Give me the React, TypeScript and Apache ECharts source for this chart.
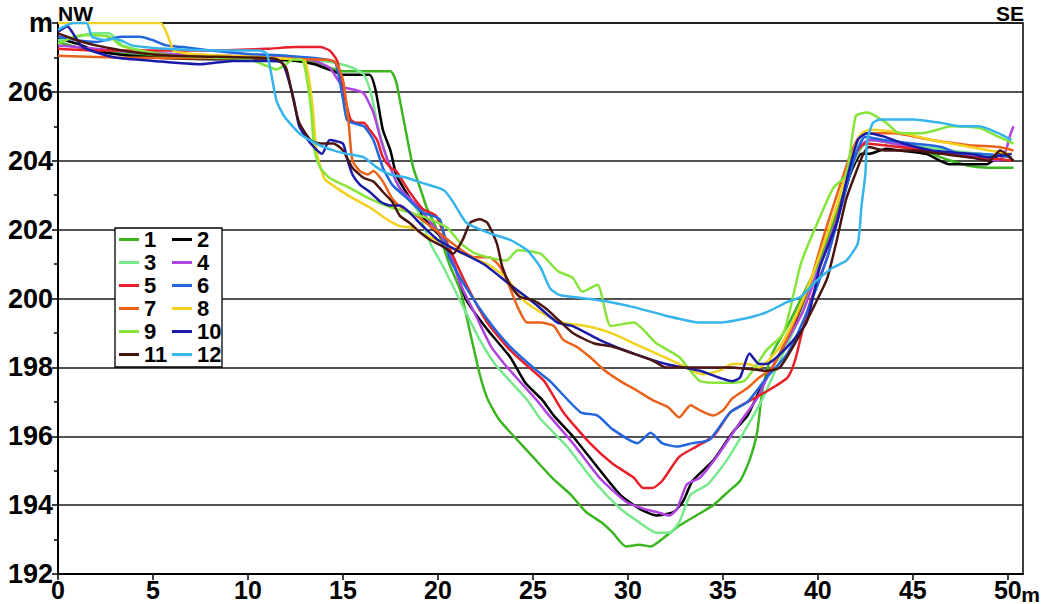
import React, { useEffect, useRef } from "react";
import * as echarts from "echarts";

// Cross-section profiles: [distance m, elevation m]
const line1 = [[0,207.45],[1,207.3],[2,207.2],[3.5,207.1],[5,207.05],[8,207.0],[11,206.95],[12.5,206.9],[13.5,206.85],[14.3,206.7],[15,206.6],[16.5,206.6],[17.5,206.6],[17.8,206.3],[18,205.75],[18.4,204.6],[18.7,203.8],[19.1,203.15],[19.4,202.65],[19.7,202.3],[20.1,201.8],[20.6,201.0],[21.2,200.2],[21.7,199.0],[22.2,197.8],[22.6,197.1],[23.2,196.5],[24,196.0],[25,195.4],[26,194.8],[27,194.3],[27.8,193.8],[28.6,193.5],[29.2,193.2],[29.9,192.8],[30.6,192.85],[31.2,192.8],[32,193.1],[32.7,193.4],[33.6,193.7],[34.5,194.0],[35.3,194.4],[35.9,194.7],[36.4,195.3],[36.8,196.1],[37.1,197.4],[37.6,198.4],[38.5,199.3],[39.3,200.2],[40,201.0],[41,202.5],[41.8,203.8],[42.3,204.4],[42.8,204.6],[43.5,204.55],[45,204.4],[46,204.2],[47,204.0],[48,203.85],[49,203.8],[50.3,203.8]];
const line2 = [[0,207.55],[1,207.4],[2,207.2],[3,207.1],[5,207.0],[8,206.95],[11,206.95],[12.5,206.9],[13.5,206.8],[14.5,206.6],[15,206.5],[16.4,206.5],[16.7,206.1],[17.1,204.9],[17.5,204.3],[17.8,203.6],[18.2,203.2],[18.9,202.6],[19.6,202.1],[20.3,201.7],[20.9,200.9],[21.5,199.95],[22.6,199.1],[23.8,198.3],[24.6,197.55],[25.5,197.05],[26.1,196.6],[27.1,196.0],[28.4,195.1],[29.6,194.3],[30.6,193.9],[31.5,193.7],[32.4,193.8],[32.9,194.1],[33.4,194.7],[34.5,195.3],[35.5,196.1],[36.3,196.6],[36.9,197.3],[38,198.4],[39,199.5],[40,200.8],[41,202.3],[41.7,203.6],[42.3,204.2],[42.7,204.2],[43.6,204.35],[44.3,204.3],[45.7,204.2],[46.9,203.9],[48.9,203.9],[49.2,204.0],[49.6,204.2],[50.1,204.1]];
const line3 = [[0,207.5],[1,207.6],[1.9,207.7],[2.7,207.7],[3.4,207.35],[5,207.15],[8,207.05],[11,207.0],[13,206.95],[14.5,206.85],[15.5,206.7],[16.1,206.5],[16.5,205.9],[16.8,205.1],[17.3,204.1],[17.8,203.4],[18.4,202.9],[18.9,202.6],[19.6,201.6],[20.3,200.9],[21.2,199.9],[22.2,198.8],[23.0,198.1],[23.8,197.6],[24.7,197.05],[25.4,196.5],[26.8,195.7],[28.2,194.7],[29.6,193.9],[30.6,193.5],[31.5,193.2],[32.2,193.2],[32.7,193.5],[33.3,194.3],[34.2,194.6],[35.2,195.3],[36.3,196.3],[37.1,197.1],[38,198.2],[39,199.4],[40,200.8],[41,202.3],[41.7,203.7],[42.3,204.4],[42.8,204.6],[44,204.5],[45.5,204.4],[47,204.3],[48.5,204.2],[50.2,204.1]];
const line4 = [[0,207.35],[1,207.3],[2,207.25],[4,207.15],[6,207.1],[9,207.05],[12,207.0],[13.5,206.9],[14.3,206.7],[15,206.15],[15.7,206.05],[16.1,205.95],[16.6,205.4],[17,204.6],[17.5,203.8],[18,203.2],[18.9,202.7],[19.9,202.0],[20.5,201.5],[21.2,200.4],[22,199.5],[22.8,198.6],[23.5,198.1],[24.3,197.6],[25.2,197.05],[25.7,196.7],[27.1,195.8],[28.5,194.8],[29.9,194.1],[30.8,193.9],[31.5,193.8],[32.2,193.7],[32.6,193.9],[33.1,194.6],[33.8,194.8],[34.8,195.5],[35.9,196.4],[36.8,197.1],[37.5,197.9],[38.3,198.7],[39.2,199.6],[40,200.8],[41,202.3],[41.7,203.7],[42.2,204.4],[42.7,204.6],[44,204.5],[45.5,204.3],[47,204.2],[48.5,204.1],[49.5,204.0],[49.9,204.3],[50.1,204.7],[50.3,205.0]];
const line5 = [[0,207.25],[2,207.2],[5,207.2],[8,207.2],[11,207.25],[12.5,207.3],[13.8,207.3],[14.3,207.2],[14.7,206.9],[15,206.05],[15.2,205.6],[15.4,205.2],[15.7,205.1],[16.1,205.1],[16.4,204.9],[16.8,204.6],[17.1,204.1],[17.5,203.8],[17.8,203.7],[18.5,203.1],[19.2,202.6],[19.9,202.4],[20.5,201.6],[21.5,200.4],[22.6,199.3],[23.8,198.5],[24.8,198.0],[25.6,197.6],[26.6,196.7],[28,195.8],[29.2,195.2],[30.3,194.8],[30.8,194.5],[31.3,194.5],[31.8,194.7],[32.7,195.4],[33.6,195.7],[34.5,196.0],[35.4,196.7],[36.3,197.0],[37.3,197.3],[38.4,197.7],[38.8,198.2],[39.2,199.1],[39.6,199.9],[40.5,201.2],[41.3,202.9],[42,204.2],[42.5,204.5],[43.5,204.45],[45,204.35],[46.5,204.25],[48,204.1],[49.5,204.05],[50.2,204.0]];
const line6 = [[0,207.6],[1,207.5],[2,207.45],[3.3,207.6],[4.3,207.6],[5,207.5],[5.7,207.35],[6.6,207.3],[8,207.2],[10,207.1],[12,207.05],[14,206.95],[14.6,206.85],[15,205.8],[15.2,205.2],[15.5,205.1],[16.1,205.0],[16.6,204.6],[17.1,203.8],[17.6,203.3],[18.4,202.9],[19.2,202.5],[20.1,202.3],[20.6,201.2],[21.5,200.3],[22.6,199.4],[23.8,198.6],[25,198.0],[25.9,197.6],[27.5,196.7],[28.4,196.6],[29.2,196.2],[30.5,195.8],[31.2,196.1],[31.8,195.8],[32.6,195.7],[33.4,195.8],[34.3,195.9],[35.4,196.7],[36.3,197.0],[37.3,197.7],[38.4,198.4],[39.5,199.7],[40.5,201.2],[41.3,202.8],[42,204.2],[42.5,204.7],[43.5,204.6],[45,204.5],[46.5,204.4],[47.5,204.2],[48.5,204.2],[49.5,204.15],[50.2,204.1]];
const line7 = [[0,207.05],[3,207.0],[6,206.98],[10,206.98],[13,206.95],[14.5,206.9],[15,206.35],[15.3,205.1],[15.5,204.0],[15.9,203.7],[16.3,203.6],[16.6,203.7],[17.1,203.4],[17.6,202.9],[18.2,202.6],[18.9,202.4],[19.6,202.1],[20.3,201.8],[21,201.5],[21.9,201.2],[22.7,201.2],[23.3,200.9],[23.8,200.3],[24.2,199.75],[24.7,199.3],[25.4,199.3],[26.1,199.2],[26.6,198.8],[27.3,198.6],[28,198.3],[28.8,197.9],[29.6,197.6],[30.4,197.35],[31.3,197.05],[32.1,196.85],[32.7,196.55],[33.3,196.9],[33.8,196.75],[34.5,196.6],[35,196.75],[35.5,197.1],[36.3,197.4],[36.9,197.7],[37.6,198.0],[38.5,199.0],[39.5,200.3],[40.3,201.8],[41,203.0],[41.8,204.3],[42.4,204.8],[44,204.8],[46,204.6],[48,204.45],[49.5,204.4],[50.3,204.3]];
const line8 = [[0,208.0],[2,208.0],[4,208.0],[5.4,208.0],[5.8,207.6],[6.1,207.2],[7,207.1],[9,207.05],[11,207.0],[12.3,206.95],[13,206.9],[13.4,205.6],[13.6,204.3],[14,203.5],[14.3,203.35],[15.4,202.95],[16.4,202.65],[17.3,202.3],[18,202.1],[18.7,202.05],[19.1,201.9],[20.3,201.6],[21.3,201.3],[22.6,201.0],[23.6,200.6],[24.5,199.95],[25.4,199.6],[26.6,199.3],[27.8,199.2],[29.1,199.0],[30.3,198.7],[31.5,198.4],[32.7,198.1],[33.4,197.9],[33.9,197.8],[34.8,197.9],[35.5,198.1],[36.3,198.1],[36.9,198.0],[38,198.6],[39,199.7],[40,201.1],[41,202.7],[41.7,204.0],[42.3,204.8],[42.8,204.9],[44.5,204.8],[46,204.6],[48,204.4],[49,204.3],[50.2,204.2]];
const line9 = [[0,207.4],[1.3,207.65],[2.7,207.6],[3.3,207.35],[4.3,207.2],[6,207.05],[8,207.0],[10,206.95],[11,206.75],[11.5,206.65],[12,206.8],[12.4,206.95],[12.9,206.9],[13.3,205.6],[13.5,204.3],[13.8,203.8],[14.3,203.5],[15.4,203.2],[16.4,202.9],[17.5,202.65],[18.5,202.5],[19.6,202.3],[20.5,202.05],[21.2,201.6],[22,201.3],[23,201.15],[23.6,201.1],[24.2,201.4],[25.4,201.3],[26.3,200.8],[27.1,200.6],[27.6,200.2],[28.4,200.4],[29.1,199.2],[30.3,199.3],[31.5,198.7],[32.7,198.3],[33.8,197.6],[35,197.55],[36.1,197.6],[37.3,198.5],[38.2,199.0],[39.1,201.0],[39.9,202.1],[40.8,203.2],[41.5,203.6],[42,205.3],[42.6,205.4],[43.6,205.1],[44.3,204.8],[45.5,204.8],[46.3,204.9],[47,205.0],[48.5,204.95],[49.5,204.7],[50.3,204.5]];
const line10 = [[0,207.75],[0.5,207.9],[0.9,207.6],[1.3,207.3],[2,207.15],[3,207.0],[5,206.9],[7.5,206.8],[9.2,206.9],[11,206.9],[11.8,206.85],[12.4,205.8],[12.7,205.0],[13.3,204.5],[13.9,204.2],[14.3,204.6],[15,204.5],[15.2,204.1],[15.5,203.6],[15.9,203.3],[16.4,203.1],[17,202.8],[17.5,202.7],[18,202.7],[18.5,202.5],[19.2,202.1],[20,201.7],[21,201.4],[22.4,201.0],[23.8,200.4],[25,199.9],[26.3,199.3],[27.1,199.2],[28.5,198.8],[30.3,198.4],[32,198.1],[33.8,197.9],[35.5,197.6],[35.9,197.7],[36.4,198.4],[36.9,198.1],[37.3,198.1],[38.4,198.6],[39.4,199.3],[40.1,200.9],[41,202.2],[41.5,203.4],[42.1,204.6],[42.6,204.8],[43.5,204.7],[44.5,204.5],[46,204.3],[48,204.2],[49,204.1],[50.2,204.2]];
const line11 = [[0,207.7],[1,207.5],[2,207.35],[4,207.15],[6,207.05],[10,207.0],[11.5,206.95],[12,206.7],[12.4,205.75],[12.7,205.1],[13.3,204.6],[13.8,204.5],[14.5,204.5],[15,204.3],[15.5,203.8],[16.1,203.5],[16.6,203.4],[17.1,203.1],[17.6,202.8],[18,202.4],[18.5,202.2],[19.1,201.9],[19.6,201.7],[20.3,201.5],[20.8,201.3],[21.3,201.7],[21.7,202.2],[22.2,202.3],[22.6,202.2],[23.1,201.6],[23.4,200.9],[23.8,200.4],[24.3,200.05],[25,199.95],[25.7,199.7],[26.3,199.4],[27.1,199.0],[28.2,198.7],[29.2,198.6],[30.3,198.4],[31.3,198.2],[32,198.0],[33.8,198.0],[35.5,198.0],[37.3,197.9],[38,198.0],[39,198.9],[40,200.0],[40.5,200.6],[41,201.7],[41.5,202.9],[42.1,203.8],[42.4,204.2],[42.7,204.4],[43.5,204.3],[45,204.3],[46.5,204.2],[48,204.1],[49,204.0],[49.6,204.3],[50.3,204.0]];
const line12 = [[0,207.8],[0.8,208.0],[1.5,208.0],[1.8,207.6],[2.6,207.5],[2.9,207.55],[3.3,207.5],[3.9,207.35],[5.7,207.25],[8.4,207.2],[10.6,207.2],[11,207.1],[11.5,205.75],[11.9,205.3],[12.7,204.8],[13.6,204.5],[14.5,204.3],[15.2,204.2],[16.1,204.1],[16.8,203.8],[17.5,203.6],[18.4,203.5],[19.2,203.35],[20.3,203.15],[20.8,202.8],[21.5,202.2],[22.7,201.9],[23.8,201.7],[24.7,201.4],[25.4,200.9],[25.9,200.3],[26.4,200.1],[28.5,199.95],[30.3,199.75],[32,199.5],[33.8,199.3],[34.8,199.3],[36.4,199.45],[37.3,199.6],[38.4,199.9],[39.1,200.05],[39.9,200.5],[40.8,200.9],[41.5,201.1],[42.1,201.6],[42.3,202.7],[42.5,203.6],[42.6,204.6],[42.9,205.1],[43.3,205.2],[44.3,205.2],[45,205.2],[46.5,205.1],[47.5,205.0],[48.5,205.0],[49.5,204.8],[50.2,204.6]];

const seriesNames = ["1", "2", "3", "4", "5", "6", "7", "8", "9", "10", "11", "12"];
const seriesColors = ["#3cb521", "#000000", "#78e88c", "#b044e0", "#e8202a", "#2266dd", "#e8621a", "#f2d21e", "#86e43a", "#1a1aa8", "#4a1510", "#36b4ec"];
const xTickValues = [0, 5, 10, 15, 20, 25, 30, 35, 40, 45, 50];
const yMin = 192;
const yMax = 208;
const xMax = 50.8;

const allLines = [line1, line2, line3, line4, line5, line6, line7, line8, line9, line10, line11, line12];

const FONT = "'Liberation Sans', Arial, Helvetica, sans-serif";

export default function App() {
  const ref = useRef<HTMLDivElement>(null);
  useEffect(() => {
    if (!ref.current) return;
    const chart = echarts.init(ref.current, undefined, { renderer: "svg" });
    const legendText = { fontSize: 22, fontWeight: "bold", color: "#000", fontFamily: FONT, lineHeight: 23 };
    chart.setOption({
      animation: false,
      backgroundColor: "#fff",
      grid: { left: 58, right: 20, top: 23, bottom: 30, show: true, borderColor: "#000", borderWidth: 1.5, backgroundColor: "transparent" },
      xAxis: {
        type: "value",
        min: 0,
        max: xMax,
        interval: 5,
        axisLine: { show: true, lineStyle: { color: "#000", width: 2 } },
        axisTick: { show: true, length: 6, lineStyle: { color: "#000", width: 1.5 }, customValues: xTickValues },
        axisLabel: {
          customValues: xTickValues,
          margin: 3,
          fontSize: 25,
          fontWeight: "bold",
          color: "#000",
          fontFamily: FONT,
          formatter: (v: number) => (v % 5 === 0 ? String(v) : ""),
        },
        splitLine: { show: false },
      },
      yAxis: {
        type: "value",
        min: yMin,
        max: yMax,
        interval: 2,
        axisLine: { show: true, lineStyle: { color: "#000", width: 2 } },
        axisTick: { show: true, length: 6, lineStyle: { color: "#000", width: 1.5 } },
        minorTick: { show: true, splitNumber: 2, length: 4, lineStyle: { color: "#000", width: 1.5 } },
        axisLabel: {
          margin: 5,
          fontSize: 27,
          fontWeight: "bold",
          color: "#000",
          fontFamily: FONT,
          formatter: (v: number) => (v === yMax ? "m" : String(v)),
        },
        splitLine: { show: true, lineStyle: { color: "#1a1a1a", width: 1.5 } },
      },
      legend: [
        {
          data: ["1", "3", "5", "7", "9", "11"],
          orient: "vertical",
          left: 119,
          top: 228,
          padding: 0,
          itemGap: 0,
          itemWidth: 20,
          itemHeight: 3,
          icon: "rect",
          textStyle: legendText,
          selectedMode: false,
          z: 10,
        },
        {
          data: ["2", "4", "6", "8", "10", "12"],
          orient: "vertical",
          left: 172,
          top: 228,
          padding: 0,
          itemGap: 0,
          itemWidth: 20,
          itemHeight: 3,
          icon: "rect",
          textStyle: legendText,
          selectedMode: false,
          z: 10,
        },
      ],
      graphic: [
        {
          type: "rect",
          z: 9,
          shape: { x: 115, y: 228, width: 107, height: 139 },
          style: { fill: "#fff", stroke: "#000", lineWidth: 1.3 },
        },
        {
          type: "text",
          z: 9,
          x: 58,
          y: 13,
          style: { text: "NW", fontSize: 21, fontWeight: "bold", fill: "#000", fontFamily: FONT, verticalAlign: "middle", textAlign: "left" },
        },
        {
          type: "text",
          z: 9,
          x: 1024,
          y: 13,
          style: { text: "SE", fontSize: 21, fontWeight: "bold", fill: "#000", fontFamily: FONT, verticalAlign: "middle", textAlign: "right" },
        },
        {
          type: "text",
          z: 9,
          x: 1040,
          y: 594,
          style: { text: "m", fontSize: 21, fontWeight: "bold", fill: "#000", fontFamily: FONT, verticalAlign: "middle", textAlign: "right" },
        },
      ],
      series: seriesNames.map((name, i) => ({
        type: "line",
        name,
        data: allLines[i],
        showSymbol: false,
        symbol: "none",
        smooth: 0.2,
        lineStyle: { width: 2.5, color: seriesColors[i] },
        itemStyle: { color: seriesColors[i] },
        z: 2,
      })),
    });
    return () => chart.dispose();
  }, []);
  return <div ref={ref} style={{ position: "fixed", left: 0, top: 0, width: 1043, height: 604, background: "#fff" }} />;
}
